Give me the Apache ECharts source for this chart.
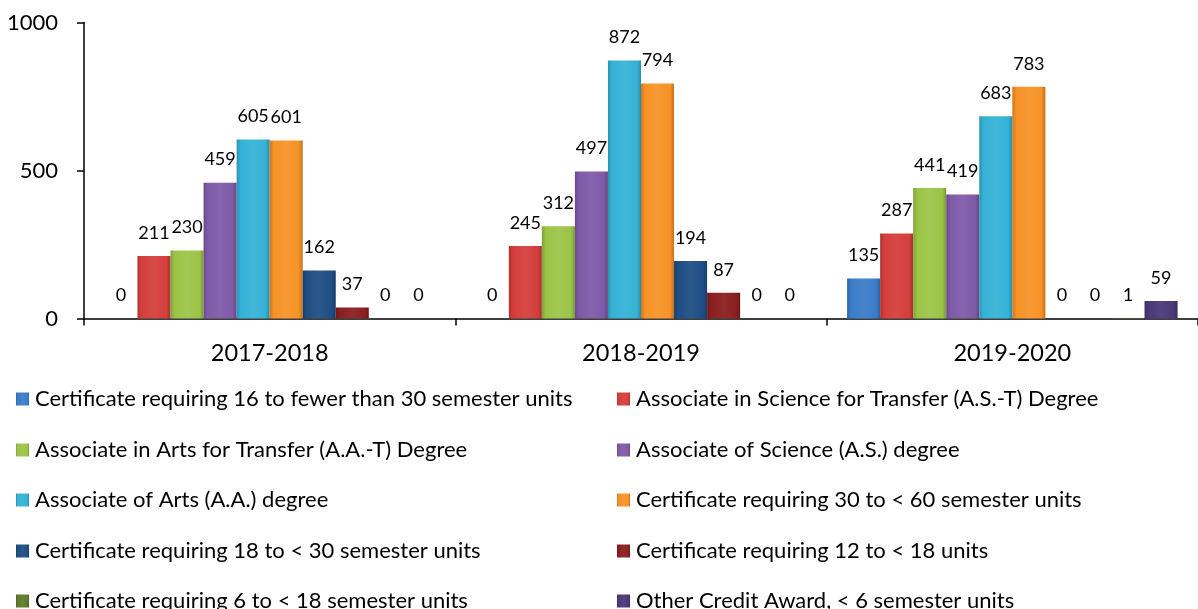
<!DOCTYPE html>
<html>
<head>
<meta charset="utf-8">
<script src="https://cdn.jsdelivr.net/npm/echarts@6/dist/echarts.min.js"></script>
<style>
html,body{margin:0;padding:0;background:#fff;}
#chart{width:1198px;height:609px;}
</style>
</head>
<body>
<div id="chart"></div>
<script>
var categories = ['2017-2018', '2018-2019', '2019-2020'];
var seriesNames = [
  'Certificate requiring 16 to fewer than 30 semester units',
  'Associate in Science for Transfer (A.S.-T) Degree',
  'Associate in Arts for Transfer (A.A.-T) Degree',
  'Associate of Science (A.S.) degree',
  'Associate of Arts (A.A.) degree',
  'Certificate requiring 30 to < 60 semester units',
  'Certificate requiring 18 to < 30 semester units',
  'Certificate requiring 12 to < 18 units',
  'Certificate requiring 6 to < 18 semester units',
  'Other Credit Award, < 6 semester units'
];
var cert16to30 = [0, 0, 135];
var ast = [211, 245, 287];
var aat = [230, 312, 441];
var as = [459, 497, 419];
var aa = [605, 872, 683];
var cert30to60 = [601, 794, 783];
var cert18to30 = [162, 194, 0];
var cert12to18 = [37, 87, 0];
var cert6to18 = [0, 0, 1];
var otherCredit = [0, 0, 59];
var seriesValues = [cert16to30, ast, aat, as, aa, cert30to60, cert18to30, cert12to18, cert6to18, otherCredit];
var yTicks = [0, 500, 1000];

var colors = ['#3A7DC9', '#D43E3B', '#9BC447', '#7F5AA8', '#35B2D6', '#F79226', '#1F4D84', '#8A1F1F', '#5E7B2A', '#4B3878'];

function shade(hex, f) {
  var r = parseInt(hex.slice(1,3),16), g = parseInt(hex.slice(3,5),16), b = parseInt(hex.slice(5,7),16);
  function c(v){ v = f < 0 ? v*(1+f) : v + (255-v)*f; return Math.max(0,Math.min(255,Math.round(v))); }
  return 'rgb(' + c(r) + ',' + c(g) + ',' + c(b) + ')';
}
function grad(hex) {
  return new echarts.graphic.LinearGradient(0, 0, 1, 0, [
    {offset: 0, color: shade(hex, -0.18)},
    {offset: 0.12, color: hex},
    {offset: 0.5, color: shade(hex, 0.06)},
    {offset: 0.88, color: hex},
    {offset: 1, color: shade(hex, -0.22)}
  ]);
}

var FONT = 'Lato';
var series = seriesNames.map(function(name, i) {
  return {
    name: name,
    type: 'bar',
    data: seriesValues[i],
    barGap: '0%',
    barCategoryGap: '11%',
    itemStyle: { color: grad(colors[i]) },
    label: {
      show: true,
      position: 'top',
      distance: 14,
      color: '#000',
      fontFamily: FONT,
      fontSize: 18
    },
    emphasis: { disabled: true }
  };
});

// Legend: two columns, five rows, one legend component per entry
var rowCenters = [399, 450, 500, 551, 601];
var legends = seriesNames.map(function(name, i) {
  var col = i % 2, row = Math.floor(i / 2);
  return {
    data: [name],
    orient: 'horizontal',
    left: col === 0 ? 16 : 617,
    top: rowCenters[row] - 11,
    itemWidth: 13, itemHeight: 13,
    icon: 'rect',
    padding: 0,
    textStyle: { fontFamily: FONT, fontSize: 22, color: '#000', lineHeight: 22, padding: [0,0,0,1] }
  };
});

var chart = echarts.init(document.getElementById('chart'), null, {renderer: 'canvas'});
chart.setOption({
  animation: false,
  backgroundColor: '#fff',
  textStyle: { fontFamily: FONT },
  grid: { left: 84, right: -8, top: 22.5, bottom: 290.5, containLabel: false },
  legend: legends,
  xAxis: {
    type: 'category',
    data: categories,
    axisLine: { lineStyle: { color: '#000', width: 1.5 } },
    axisTick: { show: true, length: 7, lineStyle: { color: '#000', width: 1.5 } },
    axisLabel: { color: '#000', fontFamily: FONT, fontSize: 23.5, margin: 23 }
  },
  yAxis: {
    type: 'value',
    min: yTicks[0], max: yTicks[yTicks.length-1], interval: 500,
    axisLine: { show: true, lineStyle: { color: '#000', width: 1.5 } },
    axisTick: { show: true, length: 7, lineStyle: { color: '#000', width: 1.5 } },
    splitLine: { show: false },
    axisLabel: { color: '#000', fontFamily: FONT, fontSize: 22, margin: 26, formatter: function(v){ return String(v); } }
  },
  series: series
});
</script>
</body>
</html>
